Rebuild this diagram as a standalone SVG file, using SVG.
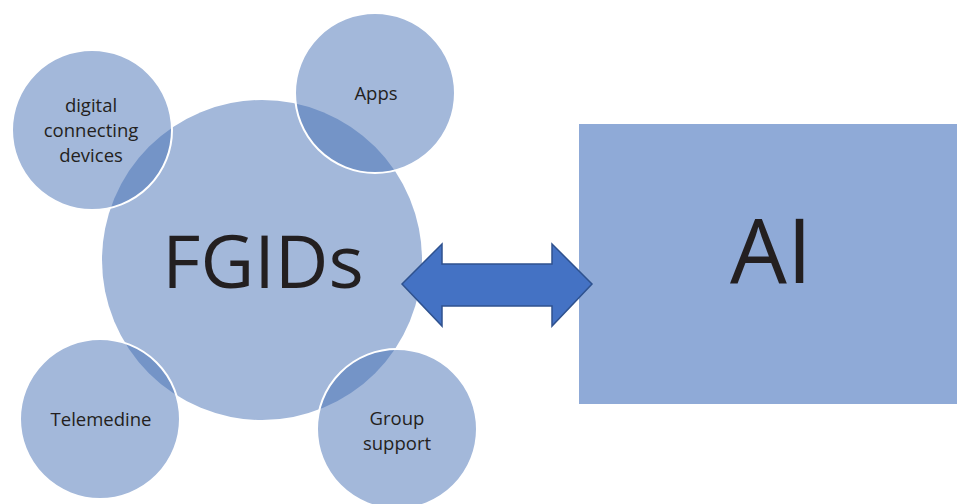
<svg xmlns="http://www.w3.org/2000/svg" width="957" height="504" viewBox="0 0 957 504">
<style>
.sat{fill:#436EB3;fill-opacity:0.49;stroke:#fff;stroke-width:2}
.lbl{font-family:"Open Sans","Liberation Sans",sans-serif;font-size:18.5px;fill:#231F20;text-anchor:middle}
.big{font-family:"Open Sans","Liberation Sans",sans-serif;fill:#231F20;text-anchor:middle}
</style>
<rect width="957" height="504" fill="#fff"/>
<g id="fgids">
<circle cx="262" cy="260" r="160" fill="#A3B8DA"/>
<text class="big" x="263" y="288" font-size="74">FGIDs</text>
</g>
<g id="digital">
<circle class="sat" cx="92" cy="130" r="80"/>
<text class="lbl" x="91" y="112">digital</text>
<text class="lbl" x="91" y="137">connecting</text>
<text class="lbl" x="91" y="162">devices</text>
</g>
<g id="apps">
<circle class="sat" cx="375" cy="93" r="80"/>
<text class="lbl" x="376" y="100">Apps</text>
</g>
<g id="telemedine">
<circle class="sat" cx="100" cy="419" r="80"/>
<text class="lbl" x="101" y="426">Telemedine</text>
</g>
<g id="group">
<circle class="sat" cx="397" cy="429" r="80"/>
<text class="lbl" x="397" y="425">Group</text>
<text class="lbl" x="397" y="450">support</text>
</g>
<g id="ai">
<rect x="579" y="124" width="380" height="280" fill="#8FAAD7"/>
<text class="big" x="771" y="283" font-size="90">AI</text>
</g>
<g id="connectors">
<path d="M402,284 L442,244 L442,264 L552,264 L552,244 L592,284 L552,326 L552,306 L442,306 L442,326 Z" fill="#4472C4" stroke="#2F528F" stroke-width="1.5" stroke-linejoin="miter"/>
</g>
</svg>
